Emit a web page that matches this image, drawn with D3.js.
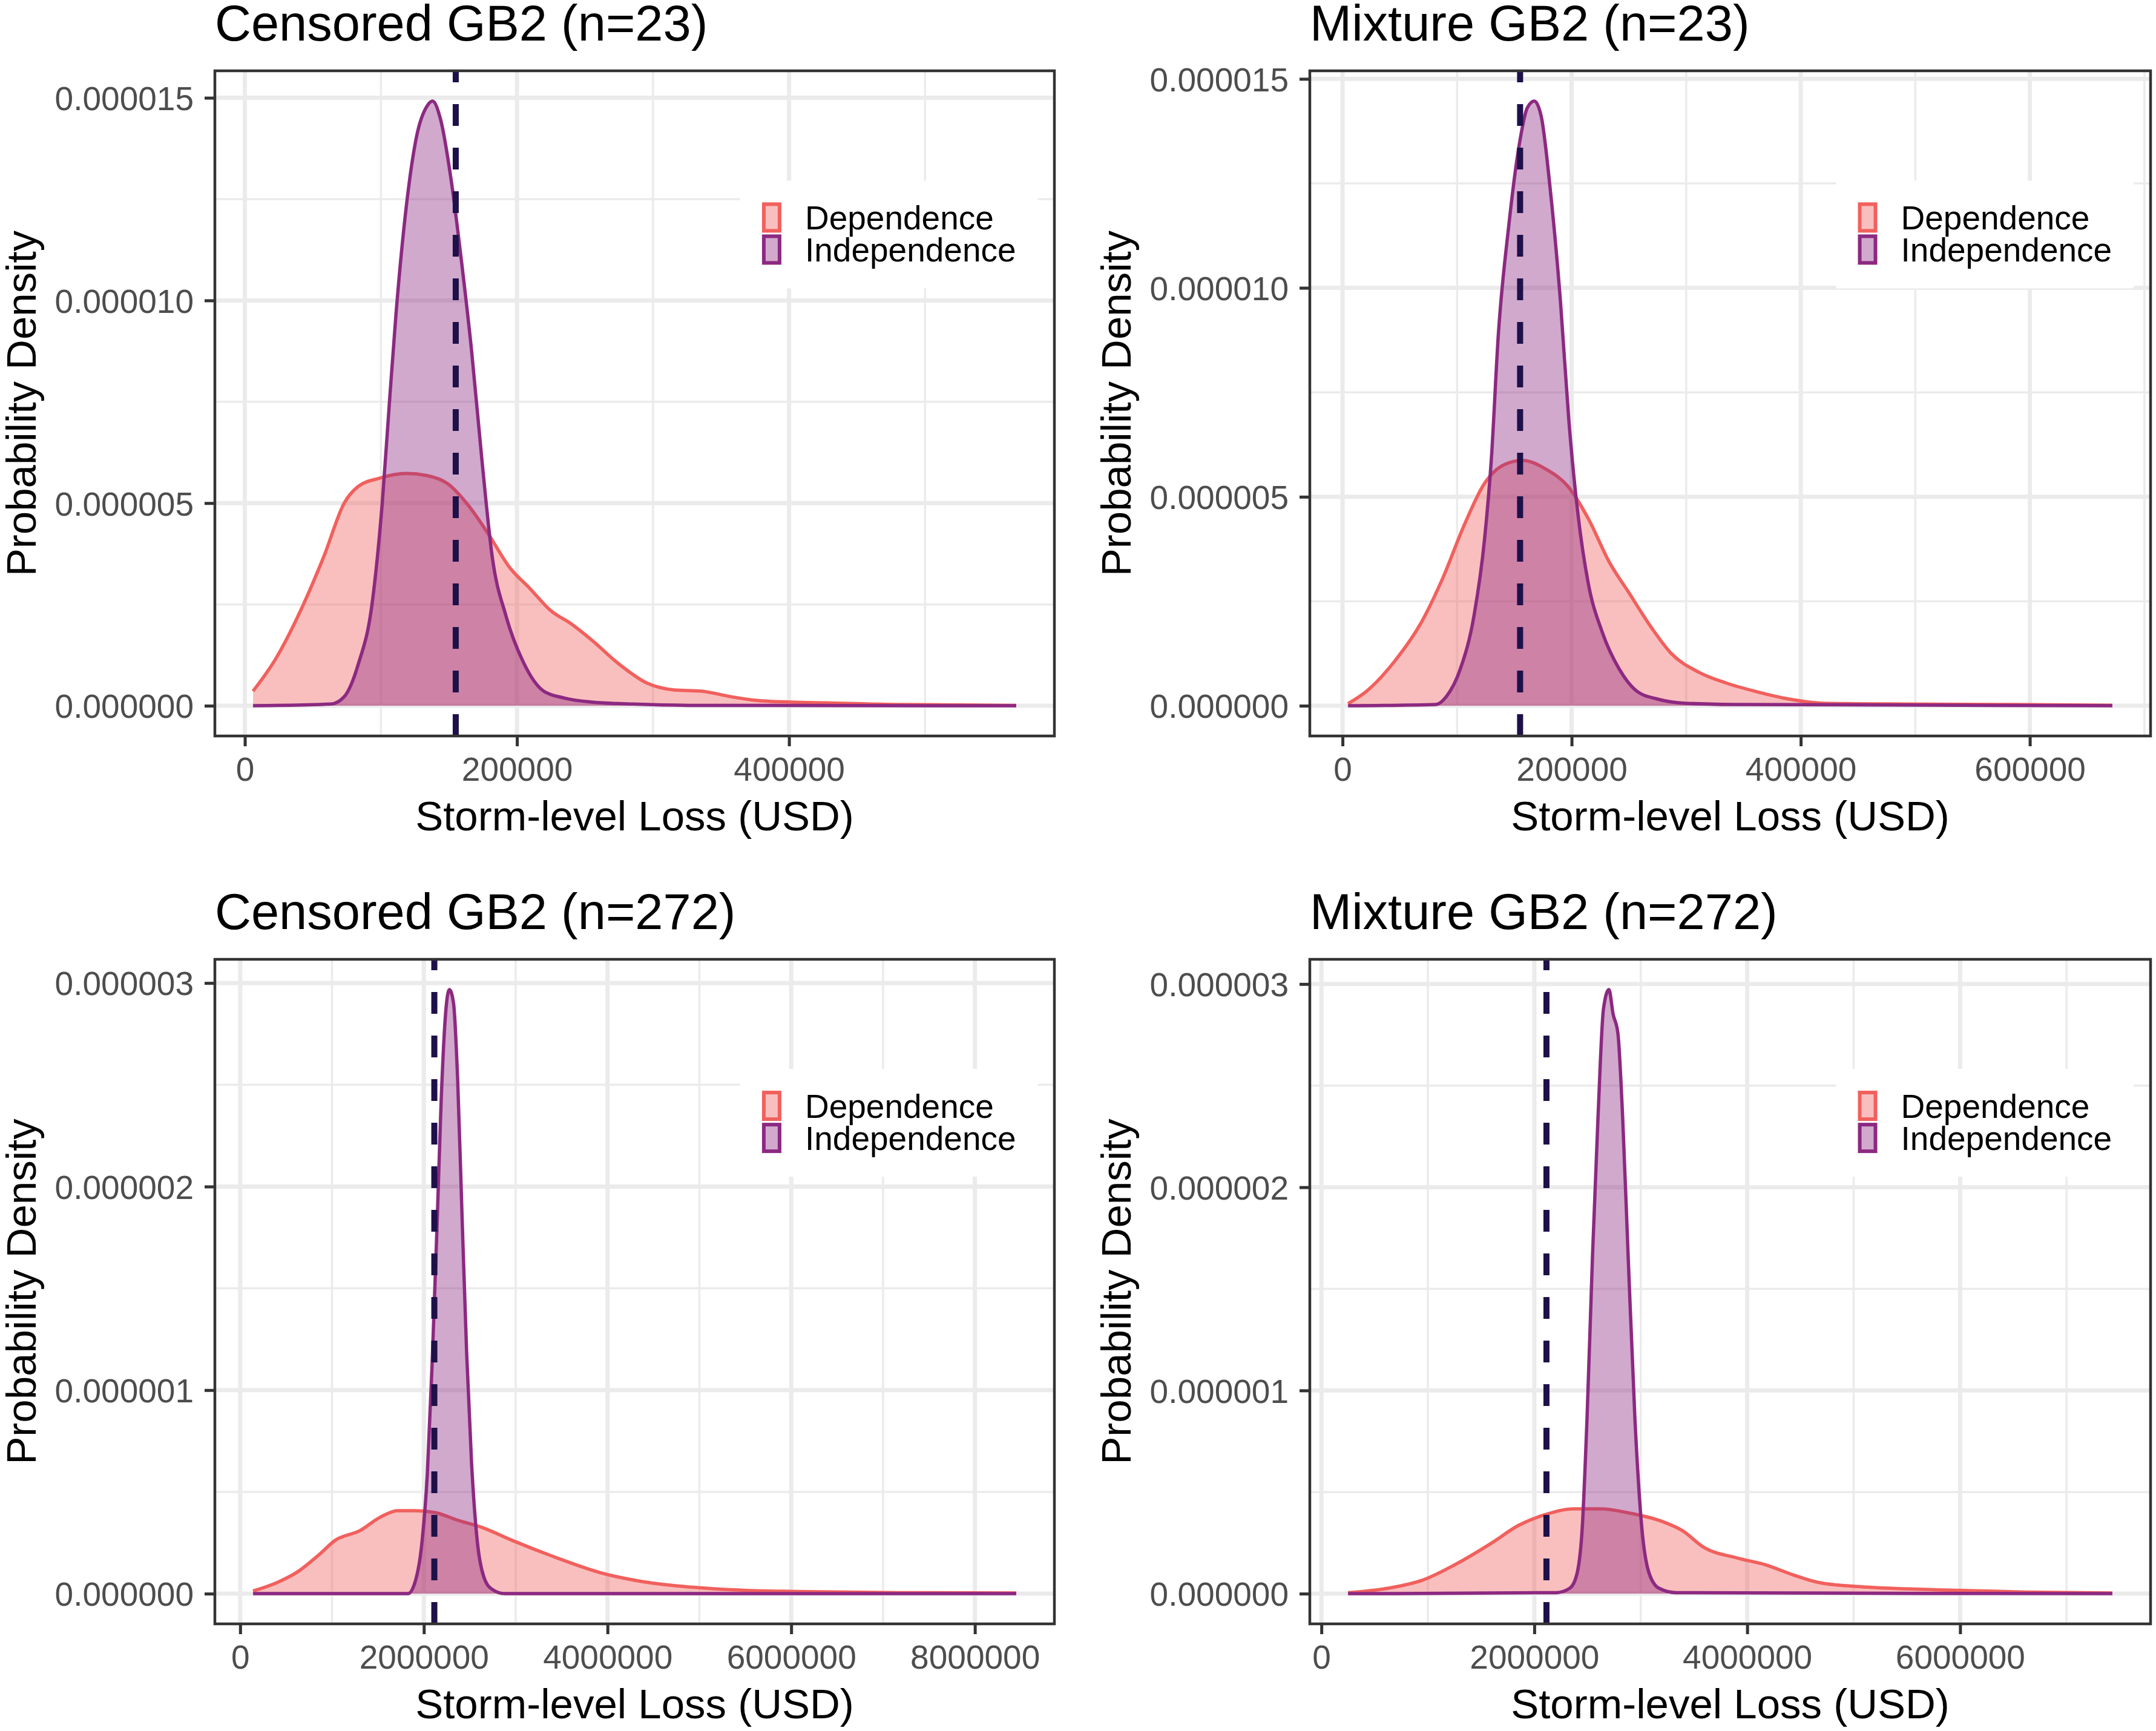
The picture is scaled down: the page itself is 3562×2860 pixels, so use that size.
<!DOCTYPE html>
<html>
<head>
<meta charset="utf-8">
<script src="https://cdn.jsdelivr.net/npm/d3@7"></script>
<style>
  body { margin: 0; background: #fff; }
  text { font-family: "Liberation Sans", Arial, sans-serif; }
</style>
</head>
<body>
<div id="chart"></div>
<script>
// ---- data ----
// observed storm-level loss (dashed line)
const obsLoss23 = 155000
const obsLoss272 = 2114000

// Censored GB2 (n=23)
const cens23DepX = [6000, 22700, 42900, 58000, 73200, 83300, 98500, 118700, 133800, 149000, 164100, 179300, 194400, 209600, 224700, 239900, 255000, 275300, 295500, 315700, 335900, 356100, 376300, 401500, 426800, 477300, 567000]
const cens23DepY = [0.36e-6, 1.16e-6, 2.49e-6, 3.68e-6, 5.01e-6, 5.41e-6, 5.61e-6, 5.73e-6, 5.68e-6, 5.48e-6, 4.95e-6, 4.22e-6, 3.42e-6, 2.89e-6, 2.35e-6, 2.02e-6, 1.62e-6, 1.02e-6, 0.56e-6, 0.39e-6, 0.36e-6, 0.23e-6, 0.13e-6, 0.09e-6, 0.07e-6, 0.03e-6, 0.01e-6]
const cens23IndX = [6000, 63100, 73200, 83300, 93400, 101000, 106100, 111100, 118700, 126300, 133800, 137900, 143900, 151500, 159100, 166700, 174200, 181800, 191900, 204500, 219700, 234800, 255000, 285400, 325800, 567000]
const cens23IndY = [0, 0.04e-6, 0.23e-6, 1.02e-6, 2.49e-6, 5.01e-6, 7.41e-6, 9.67e-6, 12.33e-6, 14.06e-6, 14.79e-6, 14.92e-6, 14.46e-6, 13.0e-6, 11.0e-6, 8.74e-6, 6.08e-6, 3.68e-6, 2.22e-6, 1.09e-6, 0.36e-6, 0.19e-6, 0.09e-6, 0.04e-6, 0.01e-6, 0]

// Mixture GB2 (n=23)
const mix23DepX = [4800, 21100, 45300, 69500, 87600, 105700, 123900, 142000, 157100, 178200, 196400, 214500, 232600, 250800, 268900, 287000, 311200, 335300, 359500, 389700, 419900, 492400, 583100, 672000]
const mix23DepY = [0.05e-6, 0.35e-6, 1.06e-6, 2.03e-6, 3.06e-6, 4.29e-6, 5.32e-6, 5.78e-6, 5.87e-6, 5.65e-6, 5.26e-6, 4.48e-6, 3.45e-6, 2.67e-6, 1.90e-6, 1.25e-6, 0.80e-6, 0.54e-6, 0.35e-6, 0.16e-6, 0.06e-6, 0.04e-6, 0.03e-6, 0.01e-6]
const mix23IndX = [4800, 81600, 90600, 102700, 114800, 123900, 129900, 136000, 145000, 154100, 161300, 167400, 173400, 181300, 190300, 197600, 205400, 214500, 226600, 241700, 256800, 274900, 299100, 341400, 672000]
const mix23IndY = [0, 0.03e-6, 0.22e-6, 0.87e-6, 2.16e-6, 3.97e-6, 5.90e-6, 8.88e-6, 11.46e-6, 13.40e-6, 14.31e-6, 14.47e-6, 14.11e-6, 12.36e-6, 9.65e-6, 6.81e-6, 4.61e-6, 2.93e-6, 1.77e-6, 0.87e-6, 0.35e-6, 0.16e-6, 0.06e-6, 0.03e-6, 0]

// Censored GB2 (n=272)
const cens272DepX = [140000, 398000, 624000, 850000, 1038000, 1301000, 1526000, 1714000, 1902000, 2128000, 2353000, 2654000, 2955000, 3406000, 3932000, 4383000, 4910000, 5511000, 6038000, 7165000, 8450000]
const cens272DepY = [0.013e-6, 0.054e-6, 0.107e-6, 0.188e-6, 0.263e-6, 0.309e-6, 0.376e-6, 0.408e-6, 0.408e-6, 0.398e-6, 0.363e-6, 0.322e-6, 0.263e-6, 0.183e-6, 0.102e-6, 0.059e-6, 0.032e-6, 0.016e-6, 0.011e-6, 0.005e-6, 0.003e-6]
const cens272IndX = [140000, 1827000, 1902000, 1977000, 2038000, 2090000, 2143000, 2188000, 2241000, 2278000, 2323000, 2368000, 2414000, 2466000, 2519000, 2579000, 2654000, 2744000, 2880000, 8450000]
const cens272IndY = [0, 0, 0.054e-6, 0.242e-6, 0.591e-6, 1.128e-6, 1.800e-6, 2.417e-6, 2.874e-6, 2.968e-6, 2.901e-6, 2.525e-6, 1.880e-6, 1.182e-6, 0.645e-6, 0.269e-6, 0.081e-6, 0.021e-6, 0, 0]

// Mixture GB2 (n=272)
const mix272DepX = [250000, 630000, 952000, 1273000, 1595000, 1852000, 2109000, 2367000, 2624000, 2881000, 3203000, 3395000, 3588000, 3910000, 4167000, 4424000, 4682000, 5132000, 5775000, 6611000, 7430000]
const mix272DepY = [0.005e-6, 0.027e-6, 0.067e-6, 0.148e-6, 0.248e-6, 0.336e-6, 0.390e-6, 0.417e-6, 0.417e-6, 0.398e-6, 0.355e-6, 0.309e-6, 0.229e-6, 0.175e-6, 0.143e-6, 0.094e-6, 0.054e-6, 0.032e-6, 0.019e-6, 0.008e-6, 0.003e-6]
const mix272IndX = [250000, 2206000, 2334000, 2399000, 2450000, 2495000, 2547000, 2598000, 2650000, 2701000, 2740000, 2785000, 2830000, 2881000, 2945000, 3010000, 3074000, 3170000, 3331000, 7430000]
const mix272IndY = [0, 0.005e-6, 0.027e-6, 0.094e-6, 0.323e-6, 0.861e-6, 1.668e-6, 2.341e-6, 2.879e-6, 2.973e-6, 2.852e-6, 2.758e-6, 2.341e-6, 1.668e-6, 0.861e-6, 0.323e-6, 0.108e-6, 0.027e-6, 0.005e-6, 0]

// axis ticks
const xTicksCens23 = [0, 200000, 400000]
const xTicksMix23 = [0, 200000, 400000, 600000]
const xTicksCens272 = [0, 2000000, 4000000, 6000000, 8000000]
const xTicksMix272 = [0, 2000000, 4000000, 6000000]
const yTicks23 = [0, 0.000005, 0.00001, 0.000015]
const yTicks272 = [0, 0.000001, 0.000002, 0.000003]

const groups = ['Dependence', 'Independence']
const groupColors = ['#F1605D', '#8C2981']
const obsColor = '#1E1049'

// ---- layout ----
const W = 3562, H = 2860
const colLeft = [355, 2164], colWidth = [1387, 1389]
const rowTop = [117, 1585], rowHeight = [1099, 1098]

const panels = [
    { title: 'Censored GB2 (n=23)', c: 0, r: 0, dep: [cens23DepX, cens23DepY], ind: [cens23IndX, cens23IndY], obs: obsLoss23, xt: xTicksCens23, yt: yTicks23 },
    { title: 'Mixture GB2 (n=23)', c: 1, r: 0, dep: [mix23DepX, mix23DepY], ind: [mix23IndX, mix23IndY], obs: obsLoss23, xt: xTicksMix23, yt: yTicks23 },
    { title: 'Censored GB2 (n=272)', c: 0, r: 1, dep: [cens272DepX, cens272DepY], ind: [cens272IndX, cens272IndY], obs: obsLoss272, xt: xTicksCens272, yt: yTicks272 },
    { title: 'Mixture GB2 (n=272)', c: 1, r: 1, dep: [mix272DepX, mix272DepY], ind: [mix272IndX, mix272IndY], obs: obsLoss272, xt: xTicksMix272, yt: yTicks272 }
]

const svg = d3.select('#chart').append('svg')
    .attr('width', W).attr('height', H)
    .style('background', '#fff')

//ggplot style expand: 5% on each side
const expand = ([a, b]) => [a - (b - a) * 0.05, b + (b - a) * 0.05]

panels.forEach((p, i) => {
    const left = colLeft[p.c], top = rowTop[p.r]
    const w = colWidth[p.c], h = rowHeight[p.r]

    const series = [p.dep, p.ind].map(([xs, ys]) => xs.map((x, j) => ({ x, y: ys[j] })))
    const allX = series.flat().map(d => d.x)
    const maxY = d3.max(series.flat(), d => d.y)

    const x = d3.scaleLinear().domain(expand(d3.extent(allX))).range([0, w])
    const y = d3.scaleLinear().domain(expand([0, maxY])).range([h, 0])

    const g = svg.append('g').attr('transform', `translate(${left},${top})`)

    g.append('clipPath').attr('id', 'clip' + i)
        .append('rect').attr('width', w).attr('height', h)

    const plot = g.append('g').attr('clip-path', `url(#clip${i})`)

    // minor gridlines halfway between the major ones
    const step = p.xt[1] - p.xt[0]
    const xMinor = d3.range(p.xt[0] - step / 2, x.domain()[1], step).filter(v => v > x.domain()[0])
    const ystep = p.yt[1] - p.yt[0]
    const yMinor = d3.range(p.yt[0] - ystep / 2, y.domain()[1], ystep).filter(v => v > y.domain()[0])

    plot.selectAll('.xminor').data(xMinor).enter().append('line')
        .attr('x1', d => x(d)).attr('x2', d => x(d)).attr('y1', 0).attr('y2', h)
        .attr('stroke', '#EBEBEB').attr('stroke-width', 3.5)
    plot.selectAll('.yminor').data(yMinor).enter().append('line')
        .attr('y1', d => y(d)).attr('y2', d => y(d)).attr('x1', 0).attr('x2', w)
        .attr('stroke', '#EBEBEB').attr('stroke-width', 3.5)
    plot.selectAll('.xmajor').data(p.xt).enter().append('line')
        .attr('x1', d => x(d)).attr('x2', d => x(d)).attr('y1', 0).attr('y2', h)
        .attr('stroke', '#EBEBEB').attr('stroke-width', 7)
    plot.selectAll('.ymajor').data(p.yt).enter().append('line')
        .attr('y1', d => y(d)).attr('y2', d => y(d)).attr('x1', 0).attr('x2', w)
        .attr('stroke', '#EBEBEB').attr('stroke-width', 7)

    const area = d3.area().x(d => x(d.x)).y0(y(0)).y1(d => y(d.y)).curve(d3.curveMonotoneX)
    const line = d3.line().x(d => x(d.x)).y(d => y(d.y)).curve(d3.curveMonotoneX)

    series.forEach((s, k) => {
        plot.append('path').datum(s).attr('d', area)
            .attr('fill', groupColors[k]).attr('fill-opacity', 0.4)
        plot.append('path').datum(s).attr('d', line)
            .attr('fill', 'none').attr('stroke', groupColors[k])
            .attr('stroke-width', 5.5).attr('stroke-linejoin', 'round')
    })

    // observed loss
    plot.append('line')
        .attr('x1', x(p.obs)).attr('x2', x(p.obs)).attr('y1', h).attr('y2', 0)
        .attr('stroke', obsColor).attr('stroke-width', 10)
        .attr('stroke-dasharray', '36,36')

    // legend
    const lg = g.append('g')
    const lgBg = lg.append('rect').attr('fill', '#fff')
    const rows = lg.selectAll('g').data(groups).enter().append('g')
        .attr('transform', (d, k) => `translate(36, ${36 + k * 53})`)
    rows.append('rect')
        .attr('x', 3).attr('y', 3).attr('width', 26).attr('height', 44)
        .attr('fill', (d, k) => groupColors[k]).attr('fill-opacity', 0.4)
        .attr('stroke', (d, k) => groupColors[k]).attr('stroke-width', 6)
    rows.append('text')
        .attr('x', 71).attr('y', 45)
        .attr('font-size', 55).attr('fill', '#000')
        .text(d => d)
    const tw = d3.max(rows.selectAll('text').nodes(), n => n.getComputedTextLength())
    const lw = 36 + 71 + tw + 36, lh = 36 + 106 + 36
    lgBg.attr('width', lw).attr('height', lh)
    lg.attr('transform', `translate(${0.803 * w - lw / 2}, ${0.246 * h - lh / 2})`)

    // border
    g.append('rect').attr('width', w).attr('height', h)
        .attr('fill', 'none').attr('stroke', '#333333').attr('stroke-width', 4.5)

    // axes
    const xAxis = d3.axisBottom(x).tickValues(p.xt).tickFormat(d3.format('d')).tickSize(17).tickPadding(20)
    const yAxis = d3.axisLeft(y).tickValues(p.yt).tickFormat(d3.format('.6f')).tickSize(17).tickPadding(18)

    const xg = g.append('g').attr('transform', `translate(0,${h})`).call(xAxis)
    const yg = g.append('g').call(yAxis)
    ;[xg, yg].forEach(a => {
        a.select('.domain').remove()
        a.selectAll('.tick line').attr('stroke', '#333333').attr('stroke-width', 5)
        a.selectAll('.tick text').attr('fill', '#4D4D4D').attr('font-size', 55)
            .attr('font-family', '"Liberation Sans", Arial, sans-serif')
    })
    xg.selectAll('.tick text').attr('dy', null).attr('y', 74).attr('dominant-baseline', null)
    yg.selectAll('.tick text').attr('dy', '0.36em')

    // titles
    g.append('text').attr('x', 0).attr('y', -50)
        .attr('font-size', 83).attr('fill', '#000')
        .text(p.title)
    g.append('text').attr('x', w / 2).attr('y', h + 156)
        .attr('text-anchor', 'middle').attr('font-size', 69).attr('fill', '#000')
        .text('Storm-level Loss (USD)')
    g.append('text')
        .attr('transform', `translate(-296, ${h / 2}) rotate(-90)`)
        .attr('text-anchor', 'middle').attr('font-size', 69).attr('fill', '#000')
        .text('Probability Density')
})
</script>
</body>
</html>
